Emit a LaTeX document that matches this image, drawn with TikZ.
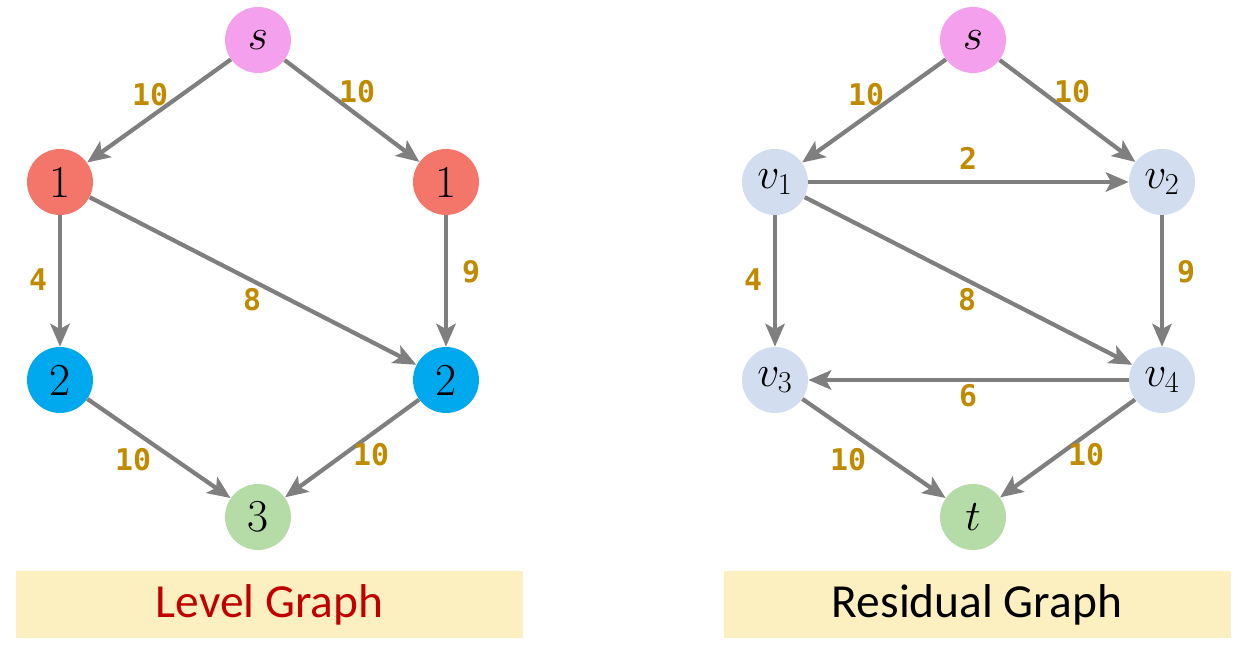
\documentclass[tikz,border=0pt]{standalone}
\usepackage{fontspec}
\newfontfamily\capfont{Carlito}
\newfontfamily\wfont{DejaVu Sans Mono}
\usetikzlibrary{arrows.meta}
\definecolor{edgegray}{HTML}{7F7F7F}
\definecolor{wgold}{HTML}{C08B00}
\definecolor{spink}{HTML}{F4A0EC}
\definecolor{lvlred}{HTML}{F4756A}
\definecolor{lvlblue}{HTML}{00A8EE}
\definecolor{tgreen}{HTML}{B5DBA7}
\definecolor{vblue}{HTML}{D2DEF0}
\definecolor{capyellow}{HTML}{FCEFC0}
\definecolor{capred}{HTML}{C00000}
\tikzset{
    vert/.style={circle, minimum size=1.32cm, inner sep=0pt, font=\fontsize{26}{28}\selectfont},
    edge/.style={draw=edgegray, line width=2.4pt, -{Stealth[length=13pt, width=11pt, inset=3pt]}},
    wt/.style={text=wgold, font=\wfont\bfseries\fontsize{17}{19}\selectfont},
    capbox/.style={fill=capyellow, minimum width=10.14cm, minimum height=1.34cm, font=\capfont\fontsize{27}{30}\selectfont}
}
\begin{document}
\begin{tikzpicture}
    \useasboundingbox (0,0) rectangle (24.86,13.08);

    % Level graph
    \node[vert, fill=spink] (sL) at (5.16,12.28) {$s$};
    \node[vert, fill=lvlred] (aL) at (1.2,9.44) {1};
    \node[vert, fill=lvlred] (bL) at (8.92,9.44) {1};
    \node[vert, fill=lvlblue] (cL) at (1.2,5.48) {2};
    \node[vert, fill=lvlblue] (dL) at (8.92,5.48) {2};
    \node[vert, fill=tgreen] (tL) at (5.16,2.74) {3};

    \draw[edge] (sL) -- (aL);
    \draw[edge] (sL) -- (bL);
    \draw[edge] (aL) -- (cL);
    \draw[edge] (aL) -- (dL);
    \draw[edge] (bL) -- (dL);
    \draw[edge] (cL) -- (tL);
    \draw[edge] (dL) -- (tL);

    \node[wt] (wsaL) at (3.0,11.18) {10};
    \node[wt] (wsbL) at (7.14,11.24) {10};
    \node[wt] (wacL) at (0.76,7.48) {4};
    \node[wt] (wadL) at (5.04,7.08) {8};
    \node[wt] (wbdL) at (9.42,7.64) {9};
    \node[wt] (wctL) at (2.66,3.88) {10};
    \node[wt] (wdtL) at (7.42,3.98) {10};

    \node[capbox, text=capred] (capL) at (5.39,0.99) {Level Graph};

    % Residual graph
    \node[vert, fill=spink] (sR) at (19.46,12.28) {$s$};
    \node[vert, fill=vblue] (v1) at (15.5,9.44) {$v_1$};
    \node[vert, fill=vblue] (v2) at (23.24,9.44) {$v_2$};
    \node[vert, fill=vblue] (v3) at (15.5,5.48) {$v_3$};
    \node[vert, fill=vblue] (v4) at (23.24,5.48) {$v_4$};
    \node[vert, fill=tgreen] (tR) at (19.46,2.74) {$t$};

    \draw[edge] (sR) -- (v1);
    \draw[edge] (sR) -- (v2);
    \draw[edge] (v1) -- (v2);
    \draw[edge] (v1) -- (v3);
    \draw[edge] (v1) -- (v4);
    \draw[edge] (v2) -- (v4);
    \draw[edge] (v4) -- (v3);
    \draw[edge] (v3) -- (tR);
    \draw[edge] (v4) -- (tR);

    \node[wt] (ws1) at (17.32,11.18) {10};
    \node[wt] (ws2) at (21.44,11.24) {10};
    \node[wt] (w12) at (19.36,9.92) {2};
    \node[wt] (w13) at (15.06,7.48) {4};
    \node[wt] (w14) at (19.34,7.08) {8};
    \node[wt] (w24) at (23.72,7.64) {9};
    \node[wt] (w43) at (19.36,5.16) {6};
    \node[wt] (w3t) at (16.96,3.88) {10};
    \node[wt] (w4t) at (21.72,3.98) {10};

    \node[capbox] (capR) at (19.54,0.99) {Residual Graph};
\end{tikzpicture}
\end{document}
